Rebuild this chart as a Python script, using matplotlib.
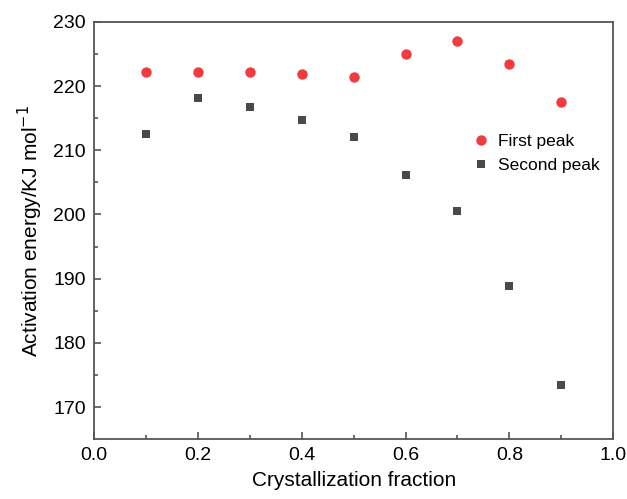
import matplotlib.pyplot as plt
import numpy as np

plt.rcParams['font.family'] = ['Liberation Sans', 'DejaVu Sans']

fraction = [0.1, 0.2, 0.3, 0.4, 0.5, 0.6, 0.7, 0.8, 0.9]
first_peak = [222.2, 222.2, 222.2, 221.9, 221.4, 225.0, 227.1, 223.5, 217.6]
second_peak = [212.6, 218.1, 216.8, 214.7, 212.1, 206.1, 200.5, 188.8, 173.5]

fig = plt.figure(figsize=(6.27, 4.99), dpi=100)
ax = fig.add_axes([0.150, 0.120, 0.828, 0.836])

ax.plot(fraction, first_peak, 'o', color='#f23b3f', markersize=7.5,
        markeredgewidth=0, label='First peak')
ax.plot(fraction, second_peak, 's', color='#4a4a4a', markersize=6.2,
        markeredgewidth=0, label='Second peak')

ax.set_xlim(0, 1.0)
ax.set_ylim(165, 230)
ax.set_xticks(np.arange(0, 1.01, 0.2))
ax.set_xticks(np.arange(0.1, 1.0, 0.2), minor=True)
ax.set_yticks(np.arange(170, 231, 10))
ax.set_yticks(np.arange(175, 230, 10), minor=True)
ax.xaxis.set_major_formatter(plt.FormatStrFormatter('%.1f'))

for s in ax.spines.values():
    s.set_color('#555555')
    s.set_linewidth(1.3)
ax.tick_params(which='both', direction='in', color='#555555', width=1.2,
               labelsize=14, pad=6)
ax.tick_params(which='major', length=5)
ax.tick_params(which='minor', length=3)

ax.set_xlabel('Crystallization fraction', fontsize=15, labelpad=5)
ax.set_ylabel('Activation energy/KJ mol$^{-1}$', fontsize=15, labelpad=6)

ax.legend(loc='upper right', bbox_to_anchor=(1.005, 0.77), frameon=False,
          fontsize=12.5, handletextpad=0.4, labelspacing=0.55, handlelength=1.2)

fig.savefig('out.png', dpi=100)
